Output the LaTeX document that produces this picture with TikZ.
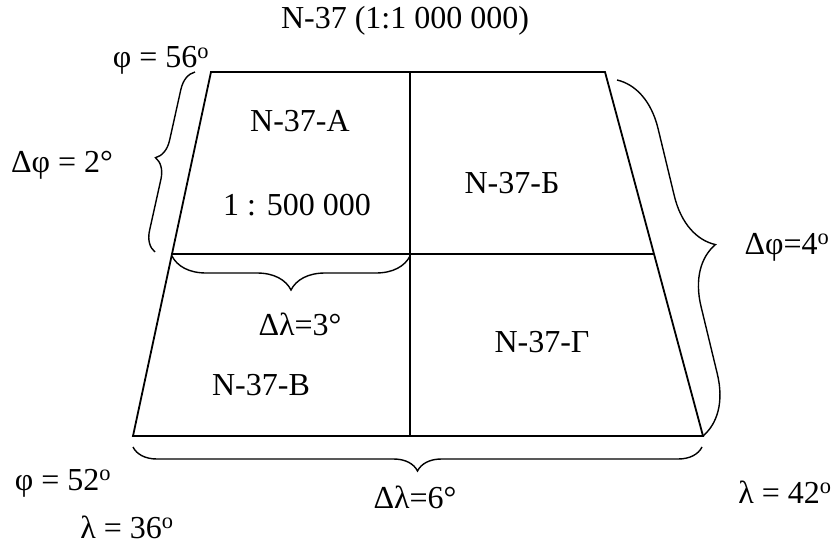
\documentclass[tikz,border=0pt]{standalone}
\usepackage{fontspec}
\setmainfont{Liberation Serif}
\usetikzlibrary{decorations.pathreplacing}

\tikzset{
  lbl/.style={anchor=base, inner sep=0pt},
  curly/.style={decorate, decoration={brace, amplitude=#1}, line width=1.4pt}
}

\begin{document}
\begin{tikzpicture}[x=1pt, y=-1pt, line width=1.8pt,
    font=\fontsize{32}{36}\selectfont]
    \useasboundingbox (0,0) rectangle (834,545);

    % Corners of the sheet
    \coordinate (nw) at (211,72);
    \coordinate (ne) at (605,72);
    \coordinate (sw) at (133,436);
    \coordinate (se) at (703,436);
    \coordinate (wm) at (172,254);
    \coordinate (em) at (654,254);
    \coordinate (nm) at (410,72);
    \coordinate (sm) at (410,436);

    % Sheet outline and division into four parts
    \draw (sw) -- (nw) -- (ne) -- (se) -- cycle;
    \draw (wm) -- (em);
    \draw (nm) -- (sm);

    % Braces
    \coordinate (lb1) at (155,252);
    \coordinate (lb2) at (195,72);
    \coordinate (rb1) at (617,80);
    \coordinate (rb2) at (703,436);
    \coordinate (mb1) at (410,256);
    \coordinate (mb2) at (172,256);
    \coordinate (bb1) at (702,447);
    \coordinate (bb2) at (133,447);
    \draw[curly=20] (lb1) -- (lb2);
    \draw[curly=57] (rb1) -- (rb2);
    \draw[curly=34] (mb1) -- (mb2);
    \draw[curly=24] (bb1) -- (bb2);

    % Labels
    \node[lbl] (title) at (405,29) {N-37 (1:1 000 000)};
    \node[lbl] (phiN) at (161,68) {φ = 56\textsuperscript{o}};
    \node[lbl] (dphiA) at (62,173) {Δφ = 2°};
    \node[lbl] (shA) at (300,132) {N-37-А};
    \node[lbl] (scale) at (297,215) {1 : 500 000};
    \node[lbl] (shB) at (512,194) {N-37-Б};
    \node[lbl] (dphiS) at (787,254) {Δφ=4\textsuperscript{o}};
    \node[lbl] (dlamA) at (300,335) {Δλ=3°};
    \node[lbl] (shG) at (542,352) {N-37-Г};
    \node[lbl] (shV) at (261,395) {N-37-В};
    \node[lbl] (phiS) at (63,490) {φ = 52\textsuperscript{o}};
    \node[lbl] (lamW) at (127,538) {λ = 36\textsuperscript{o}};
    \node[lbl] (dlamS) at (415,508) {Δλ=6°};
    \node[lbl] (lamE) at (785,503) {λ = 42\textsuperscript{o}};

\end{tikzpicture}
\end{document}
